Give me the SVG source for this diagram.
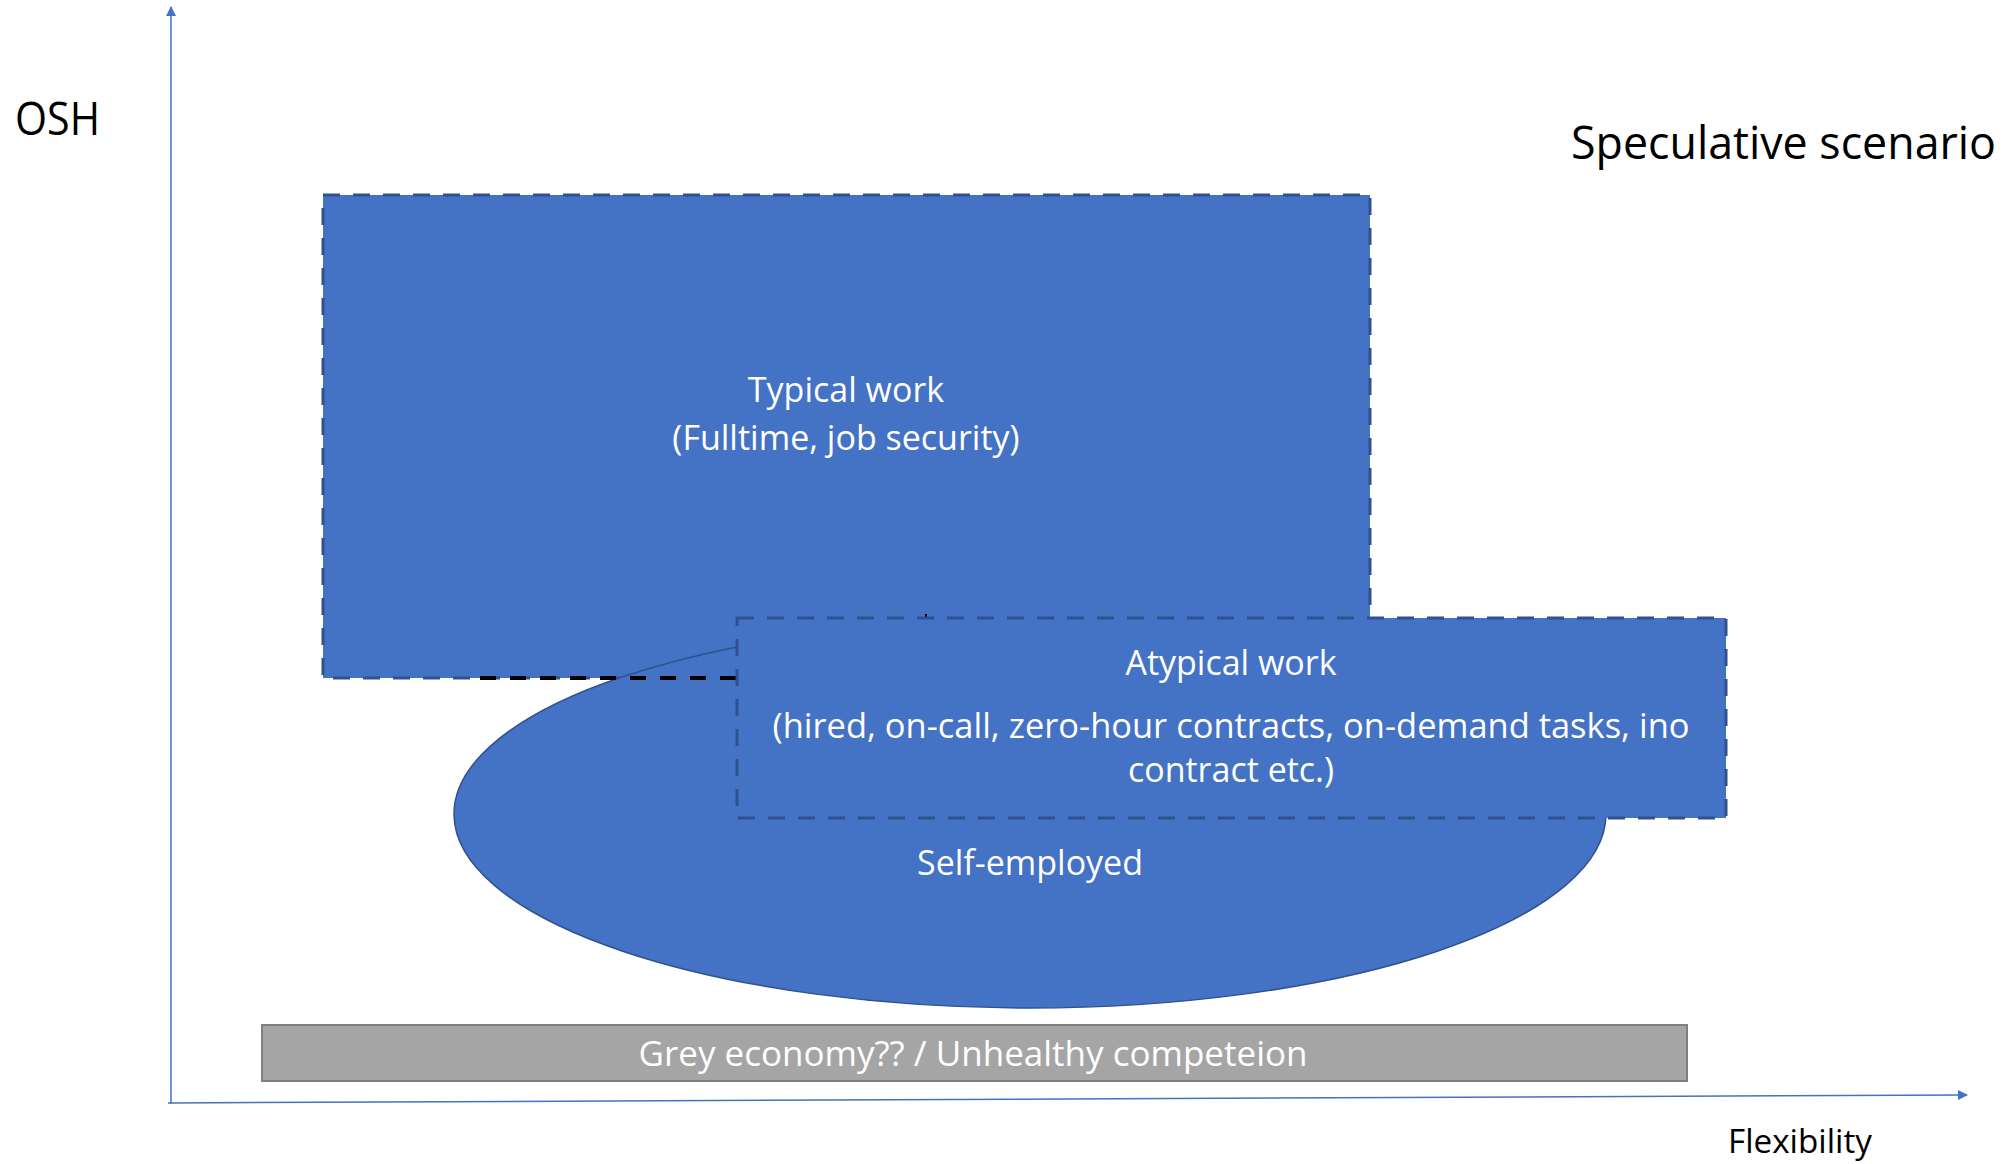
<svg xmlns="http://www.w3.org/2000/svg" width="2011" height="1164" viewBox="0 0 2011 1164">
<defs>
<style>
.box{fill:#4472c4;stroke:#2f528f;stroke-width:3;stroke-dasharray:17 13}
.lbl{font-family:"Open Sans","Noto Sans",sans-serif;fill:#ffffff;text-anchor:middle}
.blk{font-family:"Open Sans","Noto Sans",sans-serif;fill:#000000}
.axis{stroke:#4472c4;stroke-width:1.5;fill:none}
</style>
<marker id="arr" viewBox="0 0 10 10" refX="9" refY="5" markerWidth="10" markerHeight="10" markerUnits="userSpaceOnUse" orient="auto">
<path d="M0,0 L10,5 L0,10 z" fill="#4472c4"/>
</marker>
</defs>
<rect width="2011" height="1164" fill="#ffffff"/>
<g id="axes">
<line class="axis" x1="171" y1="1104" x2="171" y2="7" marker-end="url(#arr)"/>
<line class="axis" x1="168" y1="1103" x2="1967" y2="1095" marker-end="url(#arr)"/>
</g>
<g id="typical-work">
<rect class="box" x="323" y="195" width="1047" height="483"/>
<text class="lbl" font-size="34" x="846" y="402">Typical work</text>
<text class="lbl" font-size="34" x="846" y="450">(Fulltime, job security)</text>
</g>
<g id="self-employed">
<ellipse cx="1030" cy="814" rx="576" ry="194" fill="#4472c4" stroke="#2f528f" stroke-width="1.5"/>
<text class="lbl" font-size="34" x="1030" y="875">Self-employed</text>
</g>
<g id="connectors">
<line x1="480" y1="678" x2="737" y2="678" stroke="#000000" stroke-width="4" stroke-dasharray="16 14"/>
<line x1="926" y1="614" x2="926" y2="619" stroke="#000000" stroke-width="2"/>
</g>
<g id="atypical-work">
<rect class="box" x="737" y="618" width="989" height="200"/>
<text class="lbl" font-size="34" x="1231" y="675">Atypical work</text>
<text class="lbl" font-size="34" x="1231" y="738" textLength="917" lengthAdjust="spacingAndGlyphs">(hired, on-call, zero-hour contracts, on-demand tasks, ino</text>
<text class="lbl" font-size="34" x="1231" y="782">contract etc.)</text>
</g>
<g id="grey-economy">
<rect x="262" y="1025" width="1425" height="56" fill="#a5a5a5" stroke="#7f7f7f" stroke-width="2"/>
<text class="lbl" font-size="34" x="973" y="1066" textLength="669" lengthAdjust="spacingAndGlyphs">Grey economy?? / Unhealthy competeion</text>
</g>
<g id="labels">
<text class="blk" font-size="45" x="15" y="135" textLength="85" lengthAdjust="spacingAndGlyphs">OSH</text>
<text class="blk" font-size="45" x="1571" y="159" textLength="425" lengthAdjust="spacingAndGlyphs">Speculative scenario</text>
<text class="blk" font-size="33" x="1728" y="1153" textLength="144" lengthAdjust="spacingAndGlyphs">Flexibility</text>
</g>
</svg>
